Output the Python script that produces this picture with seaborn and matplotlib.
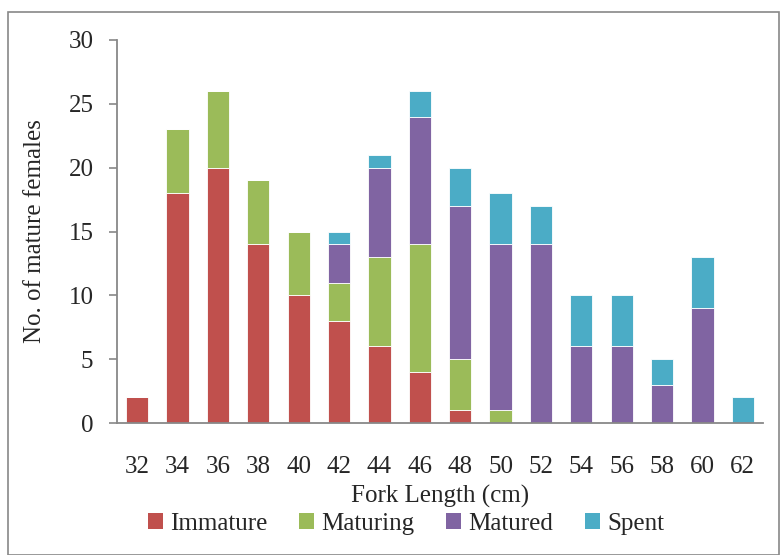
import numpy as np
import pandas as pd
import matplotlib
matplotlib.use("Agg")
import matplotlib.pyplot as plt
from matplotlib.patches import Patch, Rectangle
import seaborn as sns

lengths = ["32", "34", "36", "38", "40", "42", "44", "46", "48", "50", "52", "54", "56", "58", "60", "62"]
immature = [2, 18, 20, 14, 10, 8, 6, 4, 1, 0, 0, 0, 0, 0, 0, 0]
maturing = [0, 5, 6, 5, 5, 3, 7, 10, 4, 1, 0, 0, 0, 0, 0, 0]
matured = [0, 0, 0, 0, 0, 3, 7, 10, 12, 13, 14, 6, 6, 3, 9, 0]
spent = [0, 0, 0, 0, 0, 1, 1, 2, 3, 4, 3, 4, 4, 2, 4, 2]
series_names = ["Immature", "Maturing", "Matured", "Spent"]
colors = ["#C0504D", "#9BBB59", "#8064A2", "#4BACC6"]

sns.set_style("white")
plt.rcParams["font.family"] = ["Liberation Serif", "DejaVu Serif"]

fig = plt.figure(figsize=(7.8, 5.55), dpi=100)
ax = fig.add_axes([117/780, 1 - 423/555, (763-117)/780, (423-40)/555])

bottom = np.zeros(len(lengths))
for name, vals, col in zip(series_names, [immature, maturing, matured, spent], colors):
    df = pd.DataFrame({"len": lengths, "n": vals})
    sns.barplot(data=df, x="len", y="n", order=lengths, color=col, width=0.55,
                bottom=bottom.copy(), edgecolor="white", linewidth=0.6,
                saturation=1, ax=ax, errorbar=None)
    bottom += np.array(vals)

ax.set_ylim(0, 30)
ax.set_xlim(-0.5, len(lengths) - 0.5)
ax.set_yticks(range(0, 31, 5))
ax.tick_params(axis="y", length=6, color="#888888", width=1.2, labelsize=18, pad=11, direction="out", left=True)
ax.tick_params(axis="x", length=0, labelsize=18, pad=24)
for s in ["top", "right"]:
    ax.spines[s].set_visible(False)
for s in ["left", "bottom"]:
    ax.spines[s].set_color("#888888")
    ax.spines[s].set_linewidth(1.3)
ax.set_xlabel("Fork Length (cm)", fontsize=18, labelpad=5)
ax.set_ylabel("No. of mature females", fontsize=18, labelpad=16)

handles = [Patch(facecolor=c, edgecolor="none") for c in colors]
fig.legend(handles, series_names, loc="center", bbox_to_anchor=(406/780, 1 - 524/555), ncol=4,
           frameon=False, fontsize=18, handlelength=0.6, handleheight=0.6, handletextpad=0.3,
           columnspacing=1.25, borderpad=0)

fig.add_artist(Rectangle((8/780, 0), 1 - 9/780, 1 - 12/555, transform=fig.transFigure,
                         fill=False, edgecolor="#888888", linewidth=1.2))

fig.savefig("out.png", dpi=100)
